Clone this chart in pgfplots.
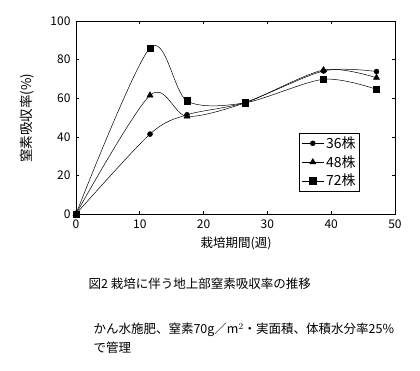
\documentclass[border=0pt]{standalone}
\usepackage{fontspec}
\setmainfont{Noto Sans CJK JP}
\usepackage{pgfplots}
\pgfplotsset{compat=1.18}
\begin{document}
\begin{tikzpicture}[x=1pt,y=1pt]
\useasboundingbox (0,0) rectangle (420,370);
\begin{axis}[
  at={(76pt,156pt)}, anchor=south west,
  width=319pt, height=193pt, scale only axis,
  xmin=0, xmax=50, ymin=0, ymax=100,
  xtick={0,10,20,30,40,50}, ytick={0,20,40,60,80,100},
  tick align=inside, major tick length=3pt,
  tick style={black, line width=0.6pt},
  axis line style={black, line width=0.6pt},
  /pgf/number format/assume math mode=true,
  tick label style={font=\fontsize{12}{12}\selectfont},
  xticklabel style={yshift=-2pt},
  yticklabel style={xshift=-2pt},
  legend style={at={(axis description cs:0.70,0.42)}, anchor=north west,
    draw=black, line width=0.5pt, font=\fontsize{14}{14}\selectfont,
    inner xsep=2pt, inner ysep=1.5pt, row sep=1.5pt, cells={anchor=west}},
  legend image code/.code={\draw[mark repeat=2,mark phase=2,#1] plot coordinates {(0pt,0pt) (11pt,0pt) (22pt,0pt)};},
  clip=false,
]
\addplot[black, line width=0.5pt, smooth, tension=0.5, mark=*, mark size=2.5pt, mark options={fill=black}]
  coordinates {(0,0) (11.6,41.4) (17.4,51.4) (26.5,57.8) (38.8,74.1) (47.1,73.8)};
\addlegendentry{36株}
\addplot[black, line width=0.5pt, smooth, tension=0.5, mark=triangle*, mark size=3.5pt, mark options={fill=black}]
  coordinates {(0,0) (11.6,61.5) (17.4,50.6) (26.5,57.6) (38.8,74.6) (47.1,70.6)};
\addlegendentry{48株}
\addplot[black, line width=0.5pt, smooth, tension=0.5, mark=square*, mark size=3.2pt, mark options={fill=black}]
  coordinates {(0,0) (11.6,86.0) (17.4,58.6) (26.5,57.6) (38.8,69.8) (47.1,64.6)};
\addlegendentry{72株}
\end{axis}
\node[rotate=90, font=\fontsize{13.5}{13.5}\selectfont] at (27,252) {窒素吸収率(\%)};
\node[font=\fontsize{12.5}{12.5}\selectfont] at (236,127) {栽培期間(週)};
\node[anchor=west, font=\fontsize{12.5}{12.5}\selectfont] at (85,86) {図2 栽培に伴う地上部窒素吸収率の推移};
\node[anchor=west, font=\fontsize{12.5}{12.5}\selectfont] at (90,40) {かん水施肥、窒素70g／m$^2$・実面積、体積水分率25\%};
\node[anchor=west, font=\fontsize{12.5}{12.5}\selectfont] at (90,22) {で管理};
\end{tikzpicture}
\end{document}
